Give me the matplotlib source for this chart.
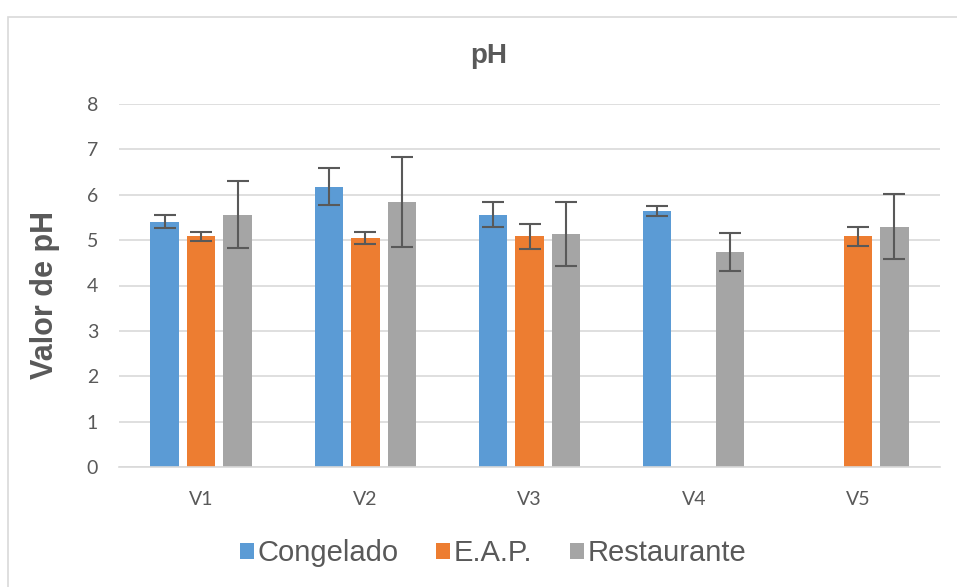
import numpy as np
import matplotlib
matplotlib.use("Agg")
from matplotlib import pyplot as plt
from matplotlib.patches import Rectangle

# Data
categories = ["V1", "V2", "V3", "V4", "V5"]
congelado = [5.41, 6.18, 5.56, 5.64, np.nan]
congelado_err = [0.14, 0.40, 0.28, 0.11, np.nan]
eap = [5.08, 5.05, 5.08, np.nan, 5.08]
eap_err = [0.11, 0.14, 0.28, np.nan, 0.20]
restaurante = [5.56, 5.84, 5.13, 4.74, 5.30]
restaurante_err = [0.74, 1.00, 0.71, 0.41, 0.71]

series = [("Congelado", congelado, congelado_err, "#5B9BD5"),
          ("E.A.P.", eap, eap_err, "#ED7D31"),
          ("Restaurante", restaurante, restaurante_err, "#A5A5A5")]

text_color = "#595959"
grid_color = "#D9D9D9"

fig = plt.figure(figsize=(9.57, 5.87), dpi=100)
ax = fig.add_axes([119/957, 1 - 467/587, (940 - 119)/957, (467 - 104)/587])

# Outer chart border
fig.patches.append(Rectangle((8/957, -0.05), 1.2, 1 - 17/587 + 0.05, transform=fig.transFigure,
                             fill=False, edgecolor=grid_color, linewidth=1.2))

x = np.arange(len(categories))
width = 0.1735
step = 0.222
for i, (name, vals, errs, color) in enumerate(series):
    pos = x + (i - 1) * step
    ax.bar(pos, vals, width, color=color, label=name, zorder=2)
    ax.errorbar(pos, vals, yerr=errs, fmt="none", ecolor=text_color,
                elinewidth=1.5, capsize=8, capthick=1.5, zorder=3)

ax.set_xlim(-0.5, len(categories) - 0.5)
ax.set_ylim(0, 8)
ax.set_yticks(range(0, 9))
ax.set_xticks(x)
ax.set_xticklabels(categories)
ax.yaxis.grid(True, color=grid_color, linewidth=1.2, zorder=0)
ax.set_axisbelow(True)
for s in ["top", "right", "left"]:
    ax.spines[s].set_visible(False)
ax.spines["bottom"].set_color(grid_color)
ax.spines["bottom"].set_linewidth(1.2)
ax.tick_params(axis="both", length=0, colors=text_color, labelsize=14)
ax.tick_params(axis="y", pad=15)
ax.tick_params(axis="x", pad=17)
for lbl in ax.get_xticklabels() + ax.get_yticklabels():
    lbl.set_family("Lato")

ax.set_ylabel("Valor de pH", fontsize=22, fontweight="bold", color=text_color,
              family="Liberation Sans")
ax.yaxis.set_label_coords(-(119 - 60)/821, 0.475)

fig.text(489/957, 1 - 56/587, "pH", ha="center", va="center", fontsize=20,
         fontweight="bold", color=text_color, family="Liberation Sans")

leg = fig.legend(loc="center", bbox_to_anchor=(493/957, 1 - 553/587), ncol=3,
                 frameon=False, handlelength=0.48, handleheight=0.48, handletextpad=0.12,
                 columnspacing=1.3, borderpad=0, prop={"family": "Liberation Sans", "size": 21})
for t in leg.get_texts():
    t.set_color(text_color)

plt.savefig("out.png", dpi=100)
